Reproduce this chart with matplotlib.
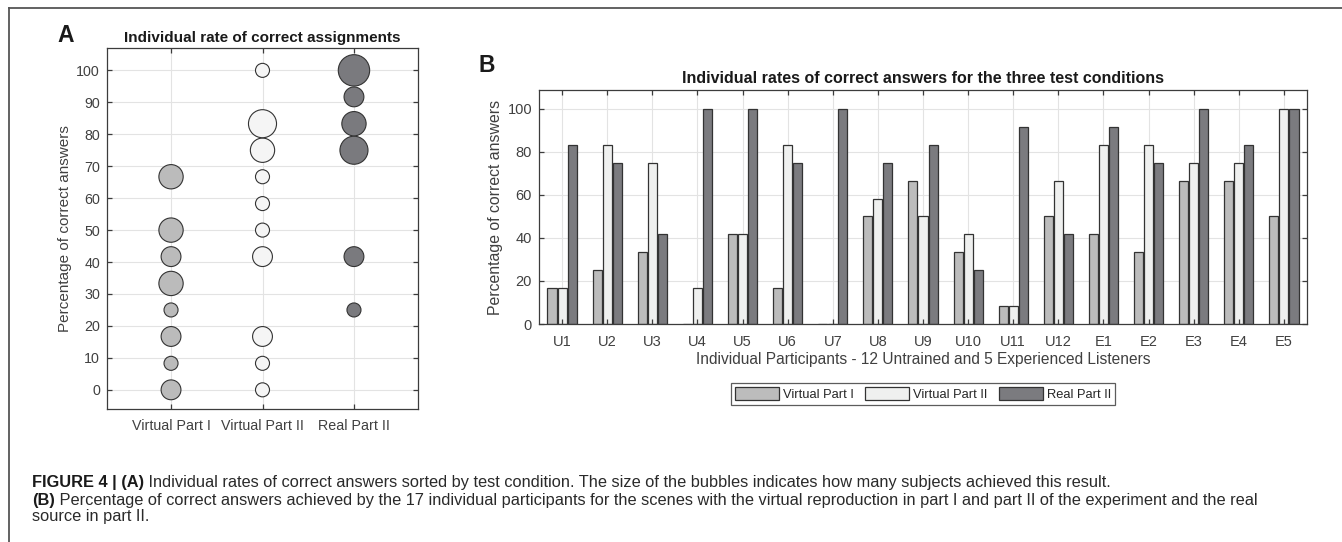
import matplotlib
matplotlib.use('Agg')
import matplotlib.pyplot as plt
import numpy as np
from matplotlib.patches import Patch
from matplotlib.lines import Line2D

# ---------------- data ----------------
participants = ['U1', 'U2', 'U3', 'U4', 'U5', 'U6', 'U7', 'U8', 'U9', 'U10',
                'U11', 'U12', 'E1', 'E2', 'E3', 'E4', 'E5']
virtual_part1 = [16.7, 25, 33.3, 0, 41.7, 16.7, 0, 50, 66.7, 33.3, 8.3, 50,
                 41.7, 33.3, 66.7, 66.7, 50]
virtual_part2 = [16.7, 83.3, 75, 16.7, 41.7, 83.3, 0, 58.3, 50, 41.7, 8.3, 66.7,
                 83.3, 83.3, 75, 75, 100]
real_part2 = [83.3, 75, 41.7, 100, 100, 75, 100, 75, 83.3, 25, 91.7, 41.7,
              91.7, 75, 100, 83.3, 100]
conditions = ['Virtual Part I', 'Virtual Part II', 'Real Part II']
bar_colors = ['#bcbcbc', '#eff0ef', '#7b7b7f']
bubble_colors = ['#bbbbbb', '#f5f5f5', '#7a7a7e']

title_a = 'Individual rate of correct assignments'
title_b = 'Individual rates of correct answers for the three test conditions'
ylabel = 'Percentage of correct answers'
xlabel_b = 'Individual Participants - 12 Untrained and 5 Experienced Listeners'
cap1_bold = 'FIGURE 4 | (A)'
cap1_rest = ' Individual rates of correct answers sorted by test condition. The size of the bubbles indicates how many subjects achieved this result.'
cap2_bold = '(B)'
cap2_rest = ' Percentage of correct answers achieved by the 17 individual participants for the scenes with the virtual reproduction in part I and part II of the experiment and the real'
cap3 = 'source in part II.'

# ---------------- style ----------------
plt.rcParams['font.family'] = ['Liberation Sans', 'DejaVu Sans']
AX = '#3c3c3c'
TXT = '#404040'
GRID = '#e3e3e3'

W, H = 1342, 542
fig = plt.figure(figsize=(W / 100, H / 100), dpi=100)
fig.patch.set_facecolor('white')

def fx(px):
    return px / W

def fy(py):
    return 1 - py / H

def style_axes(ax, labelsize):
    for s in ax.spines.values():
        s.set_color(AX)
        s.set_linewidth(0.9)
    ax.tick_params(direction='in', length=3.5, width=0.9, color=AX,
                   labelcolor=TXT, labelsize=labelsize, top=True, right=True)

# ---------------- frame ----------------
fig.add_artist(Line2D([fx(9), 1], [fy(8), fy(8)], color='#555555', lw=1.3,
                      transform=fig.transFigure))
fig.add_artist(Line2D([fx(9), fx(9)], [fy(8), 0], color='#555555', lw=1.3,
                      transform=fig.transFigure))

# ---------------- panel A ----------------
axA = fig.add_axes([fx(107), fy(409), fx(418) - fx(107), fy(48) - fy(409)])
axA.set_axisbelow(True)
axA.grid(True, color=GRID, lw=0.8)
for i, vals in enumerate([virtual_part1, virtual_part2, real_part2]):
    u, c = np.unique(np.round(vals, 1), return_counts=True)
    axA.scatter(np.full(len(u), i + 1), u, s=c * 102, c=bubble_colors[i],
                edgecolors='#333333', linewidths=0.8, zorder=3)
axA.set_xlim(0.3, 3.7)
axA.set_ylim(-6, 107)
axA.set_xticks([1, 2, 3])
axA.set_xticklabels(conditions)
axA.set_yticks(np.arange(0, 101, 10))
style_axes(axA, 10.3)
axA.tick_params(axis='x', pad=7)
axA.tick_params(axis='y', pad=5)
axA.set_title(title_a, fontsize=11, fontweight='bold', color='#1a1a1a', pad=4)
axA.set_ylabel(ylabel, fontsize=11, color=TXT, labelpad=3)
fig.text(fx(57), fy(36), 'A', fontsize=16.5, fontweight='bold', color='#1a1a1a',
         ha='left', va='center')

# ---------------- panel B ----------------
posB = [fx(539), fy(324), fx(1307) - fx(539), fy(90) - fy(324)]
axB = fig.add_axes(posB)
axB.set_axisbelow(True)
axB.grid(True, color=GRID, lw=0.8)
x = np.arange(1, len(participants) + 1)
offsets = [-0.222, 0.0, 0.222]
handles = []
for i, vals in enumerate([virtual_part1, virtual_part2, real_part2]):
    axB.bar(x + offsets[i], vals, width=0.2, color=bar_colors[i],
            edgecolor='#333333', linewidth=0.9, zorder=2)
    handles.append(Patch(facecolor=bar_colors[i], edgecolor='#333333',
                         linewidth=0.9, label=conditions[i]))
axB.set_xlim(0.49, 17.51)
axB.set_ylim(0, 108.8)
axB.set_xticks(x)
axB.set_yticks(np.arange(0, 101, 20))
axB.tick_params(length=0, labelcolor=TXT, labelsize=10.5)
axB.set_xticklabels(participants)
for s in axB.spines.values():
    s.set_visible(False)
axB.tick_params(axis='x', pad=8)
axB.tick_params(axis='y', pad=5)
axB.set_title(title_b, fontsize=11.5, fontweight='bold', color='#1a1a1a', pad=5)
axB.set_ylabel(ylabel, fontsize=11.4, color=TXT, labelpad=3)
axB.set_xlabel(xlabel_b, fontsize=11.2, color=TXT, labelpad=2)

# overlay axes for ticks / spines on top of bars
axT = fig.add_axes(posB, sharex=axB, sharey=axB)
axT.patch.set_visible(False)
style_axes(axT, 10.5)
axT.tick_params(labelbottom=False, labelleft=False)
fig.text(fx(478), fy(66), 'B', fontsize=16.5, fontweight='bold', color='#1a1a1a',
         ha='left', va='center')

leg = fig.legend(handles=handles, loc='center', bbox_to_anchor=(fx(923), fy(394)),
                 ncol=3, fontsize=9.3, frameon=True, fancybox=False,
                 handlelength=3.4, handleheight=1.1, handletextpad=0.3,
                 columnspacing=0.9, borderpad=0.3, borderaxespad=0)
leg.get_frame().set_edgecolor('#333333')
leg.get_frame().set_linewidth(0.9)
for t in leg.get_texts():
    t.set_color('#262626')

# ---------------- caption ----------------
fig.canvas.draw()
renderer = fig.canvas.get_renderer()
CAPC = '#2a2a2a'
cap_fs = 11.8

def cap_line(py, bold, rest):
    xpos = fx(32)
    if bold:
        t1 = fig.text(xpos, fy(py), bold, fontsize=cap_fs, fontweight='bold',
                      color='#1a1a1a', ha='left', va='center')
        bb = t1.get_window_extent(renderer)
        xpos = fx(bb.x1)
    fig.text(xpos, fy(py), rest, fontsize=cap_fs, color=CAPC, ha='left', va='center')

cap_line(483, cap1_bold, cap1_rest)
cap_line(500, cap2_bold, cap2_rest)
cap_line(517, '', cap3)

fig.savefig('out.png', dpi=100, facecolor='white')
